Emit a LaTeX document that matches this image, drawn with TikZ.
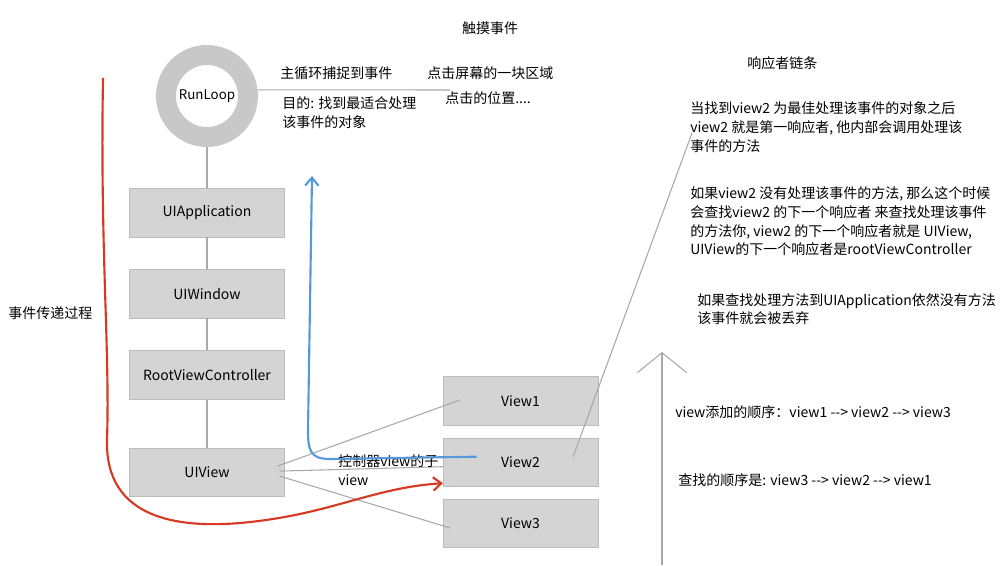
\documentclass[tikz,border=0pt]{standalone}
\usepackage{fontspec}
\setmainfont{Noto Sans CJK SC}
\usetikzlibrary{positioning,arrows.meta}

\definecolor{boxgray}{RGB}{212,212,212}
\definecolor{boxline}{RGB}{188,188,188}
\definecolor{ringgray}{RGB}{200,200,200}
\definecolor{linegray}{RGB}{168,168,168}
\definecolor{passred}{RGB}{214,58,34}
\definecolor{backblue}{RGB}{86,152,218}

\tikzset{
  viewbox/.style={draw=boxline, fill=boxgray, minimum width=116pt, minimum height=36.5pt, inner sep=0pt},
  ring/.style={circle, draw=ringgray, line width=15pt, minimum size=61.5pt, inner sep=0pt},
  link/.style={draw=linegray, line width=0.8pt},
  note/.style={anchor=west, align=left, inner sep=0pt},
}

\begin{document}
\begin{tikzpicture}[x=0.75pt, y=-0.75pt, font=\fontsize{10.5}{14}\selectfont]
  \useasboundingbox (0,0) rectangle (1008,565);

  % run loop and the chain of objects
  \node[ring] (loop) at (207,96) {\fontsize{10}{12}\selectfont RunLoop};
  \node[viewbox] (app) at (207,212.5) {UIApplication};
  \node[viewbox, below=24pt of app] (win) {UIWindow};
  \node[viewbox, below=24pt of win] (rvc) {RootViewController};
  \node[viewbox, below=36pt of rvc] (uiv) {UIView};

  % subviews
  \node[viewbox] (v1) at (520.5,401) {View1};
  \node[viewbox, below=9pt of v1] (v2) {View2};
  \node[viewbox, below=9pt of v2] (v3) {View3};

  \coordinate (tap) at (450,90);
  \coordinate (chain) at (692,133);
  \coordinate (axisbot) at (662,565);
  \coordinate (axistop) at (662,352);
  \coordinate (redtop) at (103,78);
  \coordinate (bluetip) at (312,176);

  \draw[link] (loop.7) -- (tap);
  \draw[link] (loop) -- (app) -- (win) -- (rvc) -- (uiv);
  \draw[link] ([shift={(-7,-6)}]uiv.east) -- ([shift={(17,-1)}]v1.west);
  \draw[link] ([shift={(-5,-1)}]uiv.east) -- ([shift={(0,4.5)}]v2.west);
  \draw[link] ([shift={(-5,4)}]uiv.east) -- ([shift={(7,4.5)}]v3.west);
  \draw[link] ([shift={(-25,-5.5)}]v2.east) -- (chain);
  \draw[link, -{Straight Barb[length=15pt, width=37pt, line width=0.8pt]}] (axisbot) -- (axistop);

  % texts
  \node (title) at (490,28) {触摸事件};
  \node[note] (catch) at (280,73) {主循环捕捉到事件};
  \node[note] (area) at (427,73) {点击屏幕的一块区域};
  \node[note] (pos) at (445,98) {点击的位置....};
  \node[note] (goal) at (282,112.5) {目的: 找到最适合处理\\该事件的对象};
  \node[note] (pass) at (8,313) {事件传递过程};
  \node[note] (sub) at (338,470.5) {控制器view的子\\view};
  \node[note] (chainttl) at (747,63) {响应者链条};
  \node[note] (first) at (690,127) {当找到view2 为最佳处理该事件的对象之后\\view2 就是第一响应者, 他内部会调用处理该\\事件的方法};
  \node[note] (next) at (690,221.5) {如果view2 没有处理该事件的方法, 那么这个时候\\会查找view2 的下一个响应者 来查找处理该事件\\的方法你, view2 的下一个响应者就是 UIView,\\UIView的下一个响应者是rootViewController};
  \node[note] (drop) at (697,309) {如果查找处理方法到UIApplication依然没有方法\\该事件就会被丢弃};
  \node[note] (addord) at (675,412) {view添加的顺序：view1 -{}-> view2 -{}-> view3};
  \node[note] (findord) at (678,480) {查找的顺序是: view3 -{}-> view2 -{}-> view1};

  % hand drawn strokes
  \draw[passred, line width=1.6pt, -{Straight Barb[length=6pt, width=10pt]}]
    (redtop) .. controls (100,250) and (110,350) .. (107,440)
    .. controls (105,520) and (180,528) .. (240,523)
    .. controls (330,515) and (370,488) .. ([shift={(0,21)}]v2.west);
  \draw[backblue, line width=1.6pt, -{Straight Barb[length=6pt, width=10pt]}]
    ([shift={(-44,-5.5)}]v2.center) -- (330,459)
    .. controls (310,459) and (308,450) .. (308,430) -- (bluetip);
\end{tikzpicture}
\end{document}
